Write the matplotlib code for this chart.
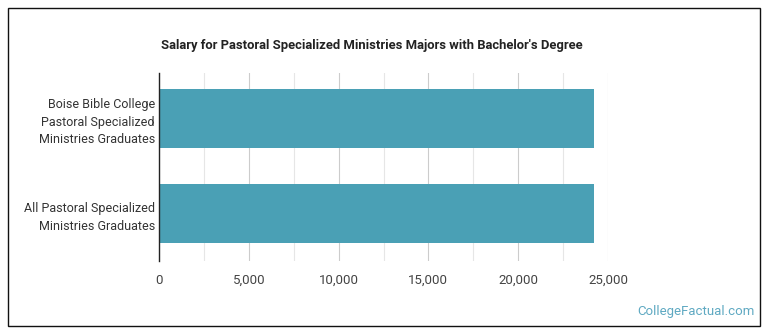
import matplotlib
matplotlib.use("Agg")
import matplotlib.pyplot as plt
from matplotlib.patches import Rectangle
from matplotlib.ticker import MultipleLocator, FuncFormatter

categories = ["Boise Bible College\nPastoral Specialized\nMinistries Graduates",
              "All Pastoral Specialized\nMinistries Graduates"]
salaries = [24200, 24200]
title = "Salary for Pastoral Specialized Ministries Majors with Bachelor's Degree"
watermark = "CollegeFactual.com"

plt.rcParams['font.family'] = ['Roboto', 'DejaVu Sans']

fig = plt.figure(figsize=(7.7, 3.35), dpi=100)
ax = fig.add_axes([159/770, 1-261/335, (608-159)/770, (261-73)/335])

ypos = list(range(len(categories)))
ax.barh(ypos, salaries, height=0.62, color="#4aa0b5", zorder=3)
ax.set_ylim(1.5, -0.479)
ax.set_xlim(0, 25000)
ax.set_yticks(ypos)
ax.set_yticklabels(categories, fontsize=9.0, color="#333333", linespacing=1.45)
ax.xaxis.set_major_locator(MultipleLocator(5000))
ax.xaxis.set_minor_locator(MultipleLocator(2500))
ax.xaxis.set_major_formatter(FuncFormatter(lambda v, p: f"{int(v):,}"))
ax.tick_params(axis='x', which='both', length=0, labelsize=9.5, labelcolor="#444444", pad=9)
ax.tick_params(axis='y', length=0, pad=3)
ax.grid(axis='x', which='major', color="#cccccc", linewidth=0.8, zorder=0)
ax.grid(axis='x', which='minor', color="#e6e6e6", linewidth=0.8, zorder=0)
for s in ['top', 'right', 'bottom']:
    ax.spines[s].set_visible(False)
ax.spines['left'].set_color("#222222")
ax.spines['left'].set_linewidth(1.0)
ax.spines['left'].set_zorder(4)

fig.text(372/770, 1-45/335, title, ha='center', va='center', fontsize=9.4,
         fontweight='bold', color="#222222")
fig.text(755/770, 1-312/335, watermark, ha='right', va='center', fontsize=9.5,
         color="#5fa9c2")

fig.patches.append(Rectangle((8/770, 1-326/335), (760-8)/770, (326-8)/335,
                             transform=fig.transFigure, fill=False,
                             edgecolor="#111111", linewidth=1.0))

fig.savefig("out.png", dpi=100)
